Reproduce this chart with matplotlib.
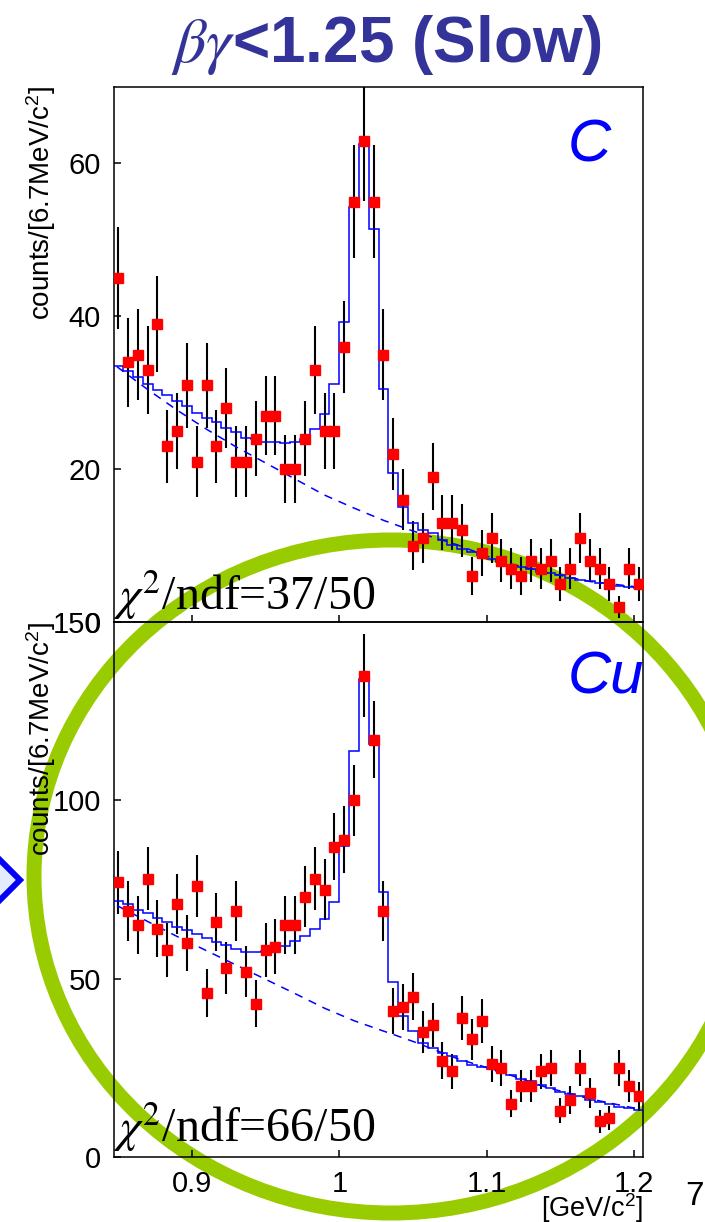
import numpy as np
import matplotlib
matplotlib.use('Agg')
import matplotlib.pyplot as plt
from matplotlib.patches import Ellipse, Polygon

plt.rcParams['font.family'] = ['Liberation Sans', 'DejaVu Sans']
plt.rcParams['lines.scale_dashes'] = False

# ---------------- data ----------------
bin_width = 0.00667        # GeV  (6.7 MeV/c^2 bins)
bin_first_edge = 0.8465    # GeV

counts_C = [45, 34, 35, 33, 39, 23, 25, 31, 21, 31, 23, 28, 21, 21, 24, 27, 27, 20,
            20, 24, 33, 25, 25, 36, 55, 63, 55, 35, 22, 16, 10, 11, 19, 13, 13, 12,
            6, 9, 11, 8, 7, 6, 8, 7, 8, 5, 7, 11, 8, 7, 5, 2, 7, 5]
fit_C = [33.5, 32.8, 32.1, 31.2, 30.4, 29.7, 28.9, 28.2, 27.3, 26.7, 26.2, 25.4,
         24.8, 24.1, 23.9, 23.6, 23.5, 23.4, 23.5, 23.9, 25.2, 27.2, 31.2, 39.2,
         54.3, 62.5, 51.4, 30.5, 19.5, 15.1, 13.0, 12.0, 11.6, 10.7, 10.1, 9.6,
         9.2, 8.8, 8.3, 7.9, 7.5, 7.2, 6.9, 6.6, 6.4, 6.1, 5.8, 5.5, 5.3, 5.1,
         4.9, 4.7, 4.6, 4.5]
bg_C_mass = [0.849, 0.87, 0.89, 0.91, 0.93, 0.95, 0.97, 0.99, 1.01, 1.03, 1.05,
             1.08, 1.11, 1.14, 1.17, 1.2061]
bg_C = [33.4, 30.4, 27.7, 25.2, 22.9, 20.8, 18.7, 16.6, 14.9, 13.3, 11.9,
        10.1, 7.9, 6.5, 5.3, 4.5]

counts_Cu = [77, 69, 65, 78, 64, 58, 71, 60, 76, 46, 66, 53, 69, 52, 43, 58, 59, 65,
             65, 73, 78, 75, 87, 89, 100, 135, 117, 69, 41, 42, 45, 35, 37, 27, 24, 39,
             33, 38, 26, 25, 15, 20, 20, 24, 25, 13, 16, 25, 18, 10, 11, 25, 20, 17]
fit_Cu = [71.7, 70.8, 69.3, 68.3, 67.0, 65.8, 64.6, 63.6, 62.6, 61.5, 60.3, 59.3,
          58.3, 57.6, 57.5, 57.7, 58.3, 59.1, 60.5, 62.0, 64.0, 66.8, 71.5, 87.2,
          113.8, 134.0, 115.7, 74.2, 49.2, 39.4, 35.2, 31.9, 30.5, 29.1, 28.2, 27.0,
          25.8, 25.2, 24.6, 24.0, 23.0, 21.8, 21.2, 20.2, 19.3, 18.3, 17.7, 17.1,
          16.0, 15.4, 14.8, 14.1, 13.7, 13.2]
bg_Cu_mass = [0.849, 0.87, 0.89, 0.91, 0.93, 0.95, 0.97, 0.99, 1.01, 1.03, 1.05,
              1.08, 1.11, 1.14, 1.17, 1.2061]
bg_Cu = [70.5, 66.0, 61.8, 57.8, 53.8, 49.8, 45.8, 41.7, 38.2, 35.3, 32.4,
         27.6, 23.8, 19.6, 16.3, 13.2]

x_ticks = [0.9, 1.0, 1.1, 1.2]
x_tick_labels = ['0.9', '1', '1.1', '1.2']
y_ticks_C = [0, 20, 40, 60]
y_ticks_Cu = [0, 50, 100, 150]
chi_C = r'$\chi^{\mathrm{2}}$/ndf=37/50'
chi_Cu = r'$\chi^{\mathrm{2}}$/ndf=66/50'

# ---------------- figure ----------------
W, H = 705, 1222
fig = plt.figure(figsize=(W / 100, H / 100), dpi=100)
fig.patch.set_facecolor('white')

ov = fig.add_axes([0, 0, 1, 1], zorder=-1)
ov.set_xlim(0, W)
ov.set_ylim(H, 0)
ov.axis('off')

# green highlight ring and blue chevron (slide decorations)
ov.add_patch(Ellipse((391, 876.5), 714, 673, fill=False, ec='#99cc00', lw=10.8))
ov.add_patch(Polygon([(-12, 848), (20, 880), (-12, 912)], closed=True,
                     fc='#e2ecfc', ec='#0000ff', lw=4.3, joinstyle='miter'))

ov.text(386, 62, r'$\beta\gamma$<1.25 (Slow)', ha='center', va='baseline',
        fontsize=46, fontweight='bold', color='#333399', math_fontfamily='stix')
ov.text(685, 1205, '7', fontsize=24, va='baseline', ha='left', color='black')


def px2fig(x0, y0, x1, y1):
    return [x0 / W, 1 - y1 / H, (x1 - x0) / W, (y1 - y0) / H]


xlim = (0.8470, 1.2061)


def panel(rect, counts, fit, bg_m, bg, ymax, yticks, show_xlabels):
    ax = fig.add_axes(px2fig(*rect), zorder=1)
    ax.set_facecolor('none')
    counts = np.asarray(counts, dtype=float)
    n = len(counts)
    edges = bin_first_edge + bin_width * np.arange(n + 1)
    centers = edges[:-1] + bin_width / 2
    ax.errorbar(centers, counts, yerr=np.sqrt(counts), fmt='none', ecolor='black',
                elinewidth=1.5, capsize=0, zorder=2)
    ax.stairs(fit, edges, color='#0000ff', lw=1.1, zorder=3, baseline=None)
    ax.plot(bg_m, bg, color='#0000ff', lw=1.1, ls=(0, (6, 5)), zorder=3)
    ax.plot(centers, counts, 's', color='#ff0000', mec='#ff0000', ms=7.6, zorder=4)
    ax.set_xlim(*xlim)
    ax.set_ylim(0, ymax)
    for s in ax.spines.values():
        s.set_linewidth(1.1)
    ax.set_xticks(x_ticks)
    ax.set_yticks(yticks)
    ax.set_yticklabels([str(v) for v in yticks])
    if show_xlabels:
        ax.set_xticklabels(x_tick_labels)
    else:
        ax.set_xticklabels([])
    ax.tick_params(axis='both', direction='in', length=5, width=1.1,
                   labelsize=21, pad=9.4, top=False, right=False)
    ax.minorticks_off()
    return ax


axC = panel((114, 87, 643, 622), counts_C, fit_C, bg_C_mass, bg_C, 70, y_ticks_C, False)
axCu = panel((114, 622, 643, 1157), counts_Cu, fit_Cu, bg_Cu_mass, bg_Cu, 150, y_ticks_Cu, True)

ylab = 'counts/[6.7MeV/c$\\mathregular{^{2}}$]'
for ax, top in ((axC, 86), (axCu, 622)):
    ax.text(41, top, ylab, transform=ov.transData, rotation=90, ha='center',
            va='top', fontsize=20, clip_on=False)

axC.text(568, 162, 'C', transform=ov.transData, color='#0000ff', fontsize=43,
         fontstyle='italic', va='baseline', ha='left')
axCu.text(568, 693, 'Cu', transform=ov.transData, color='#0000ff', fontsize=43,
          fontstyle='italic', va='baseline', ha='left')

axC.text(113, 610, chi_C, transform=ov.transData, fontfamily='Liberation Serif',
         math_fontfamily='stix', fontsize=34.5, va='baseline', ha='left', zorder=5)
axCu.text(113, 1142, chi_Cu, transform=ov.transData, fontfamily='Liberation Serif',
          math_fontfamily='stix', fontsize=34.5, va='baseline', ha='left', zorder=5)

axCu.text(643, 1217, '[GeV/c$\\mathregular{^{2}}$]', transform=ov.transData,
          ha='right', va='baseline', fontsize=19.5)

fig.savefig('out.png', dpi=100, facecolor='white')
